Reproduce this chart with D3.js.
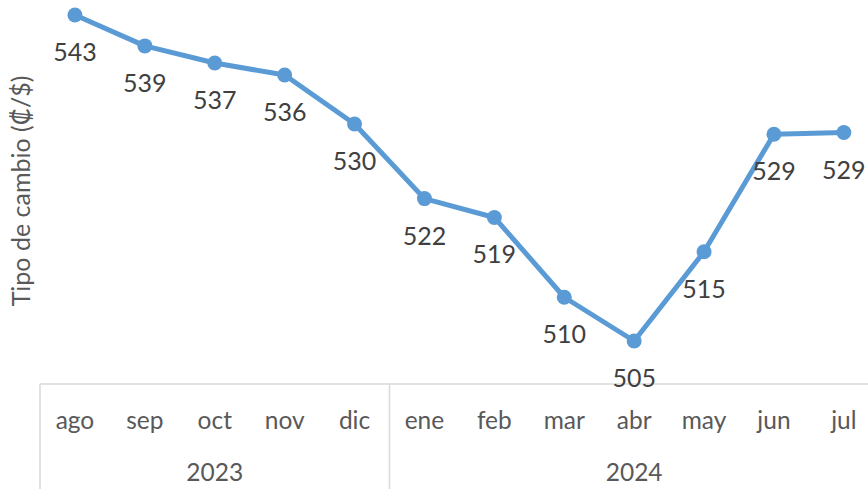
<!DOCTYPE html>
<html><head><meta charset="utf-8">
<script src="https://cdn.jsdelivr.net/npm/d3@7"></script>
<style>
html,body{margin:0;padding:0;background:#fff;}
svg{display:block;}
text{font-family:Lato,"Open Sans",sans-serif;}
</style></head>
<body>
<script>
const months = ["ago","sep","oct","nov","dic","ene","feb","mar","abr","may","jun","jul"];
const rates = [543.0,539.4,537.4,536.0,530.3,521.6,519.4,510.1,505.0,515.4,529.1,529.3];
const years = ["2023","2024"];
const yearMonthCount = [5,7];
const yLabel = "Tipo de cambio (₡/$)";

const W=868,H=489;
const svg=d3.select("body").append("svg").attr("width",W).attr("height",H);

const x=d3.scaleBand().domain(months).range([40,40+12*69.9]).padding(0);
const y=d3.scaleLinear().domain([505,543]).range([341,15]);
const axisY=384;

svg.append("line").attr("x1",40).attr("x2",W).attr("y1",axisY).attr("y2",axisY)
  .attr("stroke","#d9d9d9").attr("stroke-width",1.5);

const ax=svg.append("g").attr("transform",`translate(0,${axisY})`)
  .call(d3.axisBottom(x).tickSize(0).tickPadding(0));
ax.select(".domain").remove();
ax.selectAll("text").attr("font-size",24.5).attr("fill","#595959")
  .attr("dy",0).attr("y",45);

let start=0;
const bounds=[];
yearMonthCount.forEach((n,i)=>{
  const x0=x(months[start]);
  const x1=x(months[start+n-1])+x.bandwidth();
  bounds.push([x0,x1,years[i]]);
  start+=n;
});
bounds.forEach(([x0,x1,lab])=>{
  svg.append("line").attr("x1",x0).attr("x2",x0).attr("y1",axisY).attr("y2",H)
    .attr("stroke","#d9d9d9").attr("stroke-width",1.5);
  svg.append("text").attr("x",(x0+x1)/2).attr("y",481).attr("text-anchor","middle")
    .attr("font-size",24.5).attr("fill","#595959").text(lab);
});

svg.append("text").attr("transform",`translate(30,191) rotate(-90)`)
  .attr("text-anchor","middle").attr("font-size",25).attr("fill","#595959").text(yLabel);

const line=d3.line().x((d,i)=>x(months[i])+x.bandwidth()/2).y(d=>y(d));
svg.append("path").datum(rates).attr("d",line).attr("fill","none")
  .attr("stroke","#5b9bd5").attr("stroke-width",5).attr("stroke-linejoin","round").attr("stroke-linecap","round");
svg.selectAll("circle.pt").data(rates).enter().append("circle")
  .attr("cx",(d,i)=>x(months[i])+x.bandwidth()/2).attr("cy",d=>y(d)).attr("r",7.5)
  .attr("fill","#5b9bd5");

svg.selectAll("text.lbl").data(rates).enter().append("text").attr("class","lbl")
  .attr("x",(d,i)=>x(months[i])+x.bandwidth()/2).attr("y",d=>y(d)+46)
  .attr("text-anchor","middle").attr("font-size",25).attr("fill","#404040")
  .text(d=>Math.round(d));
</script>
</body></html>
